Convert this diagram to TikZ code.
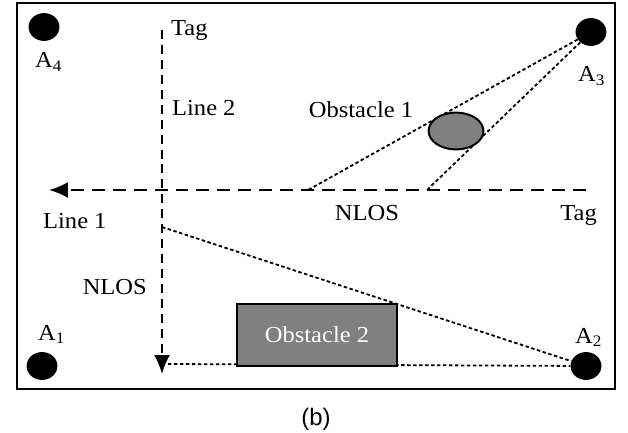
\documentclass[tikz,border=0pt]{standalone}
\usepackage{fontspec}
\setmainfont{Liberation Serif}[FakeStretch=1.07]
\newfontfamily\capfont{Liberation Sans}
\usetikzlibrary{arrows.meta, shapes.geometric}

\tikzset{
  anchorpt/.style={ellipse, fill=black, minimum width=31, minimum height=28, inner sep=0},
  lbl/.style={inner sep=0, font=\fontsize{23}{25}\selectfont},
  walkline/.style={line width=2, dash pattern=on 13 off 8, -{Latex[length=19,width=16]}},
  walkvert/.style={line width=2, dash pattern=on 9 off 6, -{Latex[length=19,width=16]}},
  ray/.style={line width=1.8, dash pattern=on 3.5 off 2.5},
}

\begin{document}
\begin{tikzpicture}[x=1bp, y=-1bp]
    \useasboundingbox (0,0) rectangle (628,433);
    % Room
    \draw[line width=2.5] (17,3) rectangle (615,389);
    % Anchors
    \node[anchorpt] (a4) at (44,27) {};
    \node[anchorpt] (a3) at (591,32) {};
    \node[anchorpt] (a1) at (42,366) {};
    \node[anchorpt] (a2) at (586,366) {};
    \node[lbl, anchor=base west] (la4) at (35,68) {A\textsubscript{4}};
    \node[lbl, anchor=base west] (la3) at (578,82) {A\textsubscript{3}};
    \node[lbl, anchor=base west] (la1) at (38,340) {A\textsubscript{1}};
    \node[lbl, anchor=base west] (la2) at (575,343) {A\textsubscript{2}};
    % Walking lines
    \coordinate (tagR) at (586,190);
    \coordinate (end1) at (49,190);
    \coordinate (tagT) at (162,30);
    \coordinate (end2) at (162,374);
    \draw[walkline] (tagR) -- (end1);
    \draw[walkvert] (tagT) -- (end2);
    % NLOS rays
    \coordinate (hit1) at (308,190);
    \coordinate (hit2) at (427,190);
    \coordinate (hit3) at (162,227);
    \coordinate (hit4) at (168,364);
    \draw[ray] (a3) -- (hit1);
    \draw[ray] (a3) -- (hit2);
    \draw[ray] (hit3) -- (a2);
    \draw[ray] (hit4) -- (a2);
    % Obstacles
    \node[ellipse, draw, line width=2, fill=gray, minimum width=55, minimum height=37, inner sep=0] (obs1) at (456,131) {};
    \node[rectangle, draw, line width=2, fill=gray, minimum width=160, minimum height=62, inner sep=0,
          text=white, font=\fontsize{23}{25}\selectfont] (obs2) at (317,335) {Obstacle 2};
    % Labels
    \node[lbl, anchor=base west] (ltag1) at (171,36) {Tag};
    \node[lbl, anchor=base west] (lline2) at (172,116) {Line 2};
    \node[lbl, anchor=base] (lobs1) at (361,118) {Obstacle 1};
    \node[lbl, anchor=base] (lnlos1) at (367,221) {NLOS};
    \node[lbl, anchor=base east] (ltag2) at (597,221) {Tag};
    \node[lbl, anchor=base west] (lline1) at (43,229) {Line 1};
    \node[lbl, anchor=base east] (lnlos2) at (147,295) {NLOS};
    \node[inner sep=0, anchor=base, font=\capfont\fontsize{24}{26}\selectfont] (cap) at (316,425) {(b)};
\end{tikzpicture}
\end{document}
